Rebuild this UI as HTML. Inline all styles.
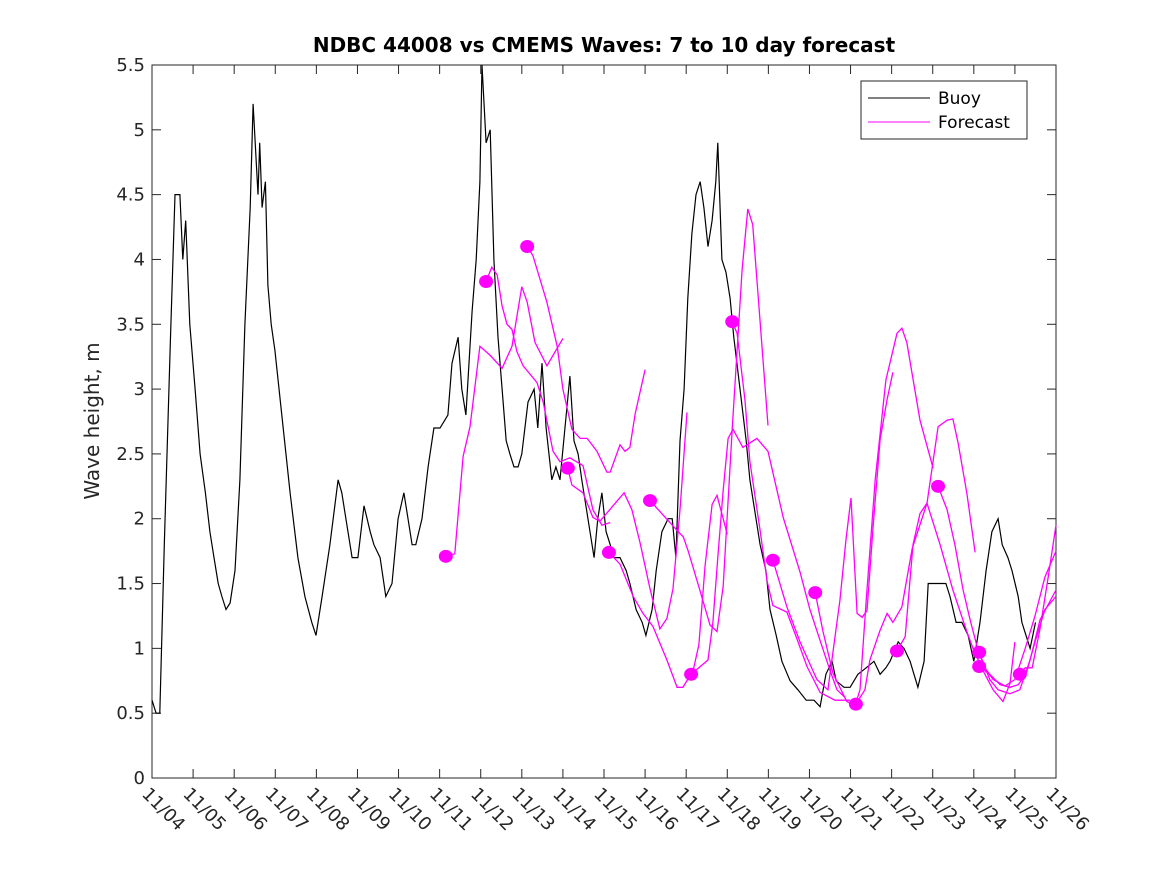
<!DOCTYPE html>
<html><head><meta charset="utf-8"><style>
body{margin:0;background:#fff;}
svg{display:block;font-family:"DejaVu Sans","Liberation Sans",sans-serif;}
</style></head><body>
<svg id="chart" width="1167" height="875" viewBox="0 0 1167 875">
<rect width="1167" height="875" fill="#fff"/>
<text x="604" y="52" text-anchor="middle" font-size="20" font-weight="bold" fill="#000">NDBC 44008 vs CMEMS Waves: 7 to 10 day forecast</text>
<text transform="translate(99,421) rotate(-90)" text-anchor="middle" font-size="20" fill="#262626">Wave height, m</text>
<g id="axes"></g>
<g id="plot"></g>
<g>
<rect x="861" y="81" width="166" height="58" fill="#fff" stroke="#262626" stroke-width="1"/>
<line x1="868" y1="98" x2="930" y2="98" stroke="#000" stroke-width="1"/>
<text x="938" y="104" font-size="17" fill="#000">Buoy</text>
<line x1="868" y1="122" x2="930" y2="122" stroke="#ff00ff" stroke-width="1"/>
<text x="938" y="128" font-size="17" fill="#000">Forecast</text>
</g>
</svg>
<script>
const xTickLabels=["11/04","11/05","11/06","11/07","11/08","11/09","11/10","11/11","11/12","11/13","11/14","11/15","11/16","11/17","11/18","11/19","11/20","11/21","11/22","11/23","11/24","11/25","11/26"];
const yTicks=[0,0.5,1,1.5,2,2.5,3,3.5,4,4.5,5,5.5];
const buoyDays=[0,0.1,0.19,0.3,0.45,0.56,0.68,0.75,0.82,0.92,1.05,1.17,1.3,1.41,1.51,1.61,1.7,1.8,1.9,2.02,2.14,2.26,2.39,2.46,2.58,2.62,2.68,2.76,2.82,2.9,2.99,3.16,3.36,3.55,3.72,3.89,3.99,4.14,4.33,4.53,4.62,4.72,4.87,5.01,5.16,5.31,5.4,5.55,5.69,5.84,5.99,6.13,6.23,6.33,6.42,6.57,6.72,6.86,7.01,7.2,7.3,7.45,7.54,7.64,7.79,7.89,7.98,8.03,8.13,8.23,8.32,8.42,8.52,8.62,8.71,8.81,8.91,9,9.15,9.3,9.39,9.49,9.59,9.73,9.83,9.93,10.08,10.17,10.27,10.37,10.46,10.56,10.66,10.76,10.85,10.95,11.05,11.15,11.24,11.39,11.54,11.63,11.78,11.93,12.02,12.17,12.27,12.41,12.56,12.66,12.75,12.85,12.95,13.04,13.14,13.24,13.34,13.43,13.53,13.63,13.72,13.77,13.87,13.97,14.07,14.16,14.31,14.46,14.55,14.7,14.8,14.94,15.04,15.19,15.33,15.53,15.72,15.92,16.11,16.26,16.4,16.55,16.65,16.84,16.99,17.18,17.38,17.57,17.72,17.86,17.96,18.16,18.3,18.45,18.64,18.79,18.89,18.98,19.18,19.32,19.42,19.57,19.71,19.86,20,20.15,20.3,20.44,20.59,20.69,20.83,20.93,21.08,21.17,21.27,21.37,21.5];
const buoyValues=[0.6,0.5,0.5,1.8,3.4,4.5,4.5,4,4.3,3.5,3,2.5,2.2,1.9,1.7,1.5,1.4,1.3,1.35,1.6,2.3,3.5,4.4,5.2,4.5,4.9,4.4,4.6,3.8,3.5,3.3,2.8,2.2,1.7,1.4,1.2,1.1,1.4,1.8,2.3,2.2,2,1.7,1.7,2.1,1.9,1.8,1.7,1.4,1.5,2,2.2,2,1.8,1.8,2,2.4,2.7,2.7,2.8,3.2,3.4,3,2.8,3.6,4,4.6,5.5,4.9,5,4,3.4,3,2.6,2.5,2.4,2.4,2.5,2.9,3,2.7,3.2,2.7,2.3,2.4,2.3,2.8,3.1,2.6,2.5,2.3,2.1,1.9,1.7,2,2.2,1.9,1.8,1.7,1.7,1.6,1.5,1.3,1.2,1.1,1.3,1.6,1.9,2,2,1.7,2.6,3,3.7,4.2,4.5,4.6,4.4,4.1,4.3,4.6,4.9,4,3.9,3.7,3.4,3,2.6,2.3,2,1.8,1.6,1.3,1.1,0.9,0.75,0.68,0.6,0.6,0.55,0.8,0.9,0.75,0.7,0.7,0.8,0.85,0.9,0.8,0.85,0.9,1.05,1,0.9,0.7,0.9,1.5,1.5,1.5,1.5,1.4,1.2,1.2,1.1,0.9,1.2,1.6,1.9,2,1.8,1.7,1.6,1.4,1.2,1.1,1,1.2];
const fcDays=[
[7.15,7.37,7.57,7.74,7.98,8.23,8.52,8.76,9.0,9.13,9.32,9.61,10.0],
[8.13,8.27,8.4,8.52,8.64,8.76,8.88,9.03,9.37,9.52,9.76,9.93,10.17,10.49,10.73,10.95,11.15],
[9.13,9.27,9.61,9.86,10.0,10.22,10.42,10.59,10.83,11.07,11.15,11.39,11.51,11.63,11.76,12.0],
[10.12,10.22,10.49,10.73,10.9,11.22,11.49,11.68,11.88,12.12,12.36,12.53,12.68,12.85,13.02],
[11.12,11.39,11.71,11.95,12.19,12.53,12.78,12.92,13.17,13.31,13.46,13.63,13.75,14.0],
[12.12,12.78,12.93,13.05,13.34,13.58,13.75,13.9,14.12,14.36,14.5,14.62,14.99],
[13.12,13.53,13.65,13.77,13.9,14.02,14.14,14.38,14.72,14.99,15.36,15.77,16.01,16.26,16.5,16.67,16.87],
[14.12,14.24,14.43,14.55,14.8,14.97,15.11,15.45,15.7,15.94,16.26,16.62,16.99],
[15.11,15.45,15.77,16.18,16.45,16.74,16.89,17.01,17.16,17.28,17.4,17.55,17.72,17.89,18.03],
[16.14,16.33,16.57,16.91,17.11,17.23,17.38,17.6,17.86,18.13,18.25,18.37,18.69,19.01],
[17.13,17.35,17.47,17.72,17.89,18.03,18.25,18.5,18.86,19.13,19.35,19.49,19.62,19.83,20.03],
[18.13,18.33,18.52,18.69,18.86,19.18,19.49,19.83,19.98,20.22,20.47,20.71,20.88,21.0],
[19.13,19.35,19.54,19.74,19.91,20.1,20.27,20.47,20.76,21.0,21.25,21.49,21.73,22.0],
[20.13,20.39,20.59,20.88,21.12,21.37,21.61,22.0],
[20.13,20.39,20.64,20.88,21.08,21.27,21.49,21.73,22.0],
[21.12,21.25,21.42,21.61,21.81,22.0]];
const fcValues=[
[1.71,1.73,2.48,2.71,3.33,3.26,3.16,3.33,3.79,3.67,3.36,3.18,3.39],
[3.83,3.94,3.88,3.64,3.5,3.46,3.29,3.18,3.05,2.9,2.52,2.44,2.47,2.41,2.07,1.95,1.97],
[4.1,4.03,3.67,3.33,3.0,2.69,2.62,2.62,2.52,2.36,2.36,2.57,2.52,2.55,2.81,3.15],
[2.39,2.26,2.2,2.01,1.98,2.1,2.2,2.07,1.81,1.46,1.15,1.23,1.46,2.07,2.82],
[1.74,1.65,1.4,1.27,1.17,0.91,0.7,0.7,0.83,1.03,1.64,2.11,2.18,1.88],
[2.14,1.91,1.86,1.75,1.44,1.18,1.13,1.48,2.69,3.92,4.39,4.27,2.72],
[0.8,0.91,1.2,1.7,2.22,2.62,2.69,2.55,2.62,2.52,2.01,1.59,1.3,1.06,0.83,0.68,0.62],
[3.52,3.43,2.92,2.44,1.91,1.52,1.33,1.28,1.07,0.86,0.66,0.6,0.6],
[1.68,1.32,1.05,0.76,0.68,1.37,1.84,2.16,1.27,1.24,1.29,1.94,2.61,2.92,3.13],
[1.43,1.13,0.81,0.59,0.56,0.68,1.37,2.3,3.07,3.43,3.47,3.36,2.76,2.39],
[0.57,0.68,0.91,1.14,1.27,1.2,1.32,1.77,2.12,2.71,2.76,2.77,2.58,2.2,1.74],
[0.98,1.09,1.8,2.04,2.12,1.8,1.45,1.13,1.0,0.83,0.68,0.59,0.73,1.05],
[2.25,2.07,1.8,1.45,1.22,0.99,0.85,0.76,0.71,0.76,1.0,1.25,1.55,1.75],
[0.97,0.76,0.68,0.65,0.68,0.91,1.22,1.45],
[0.86,0.8,0.72,0.7,0.72,0.8,1.05,1.3,1.4],
[0.8,0.85,0.85,1.15,1.55,1.95,2.35]];

const NS="http://www.w3.org/2000/svg";
const L=152,R=1056,T=65,B=778,X0=0,X1=22,Y0=0,Y1=5.5;
const xs=d=>L+(d-X0)/(X1-X0)*(R-L);
const ys=v=>B-(v-Y0)/(Y1-Y0)*(B-T);
function mk(tag,attrs,parent){const e=document.createElementNS(NS,tag);for(const k in attrs)e.setAttribute(k,attrs[k]);parent.appendChild(e);return e;}
const axes=document.getElementById('axes'),plot=document.getElementById('plot');
const box=mk('rect',{x:L,y:T,width:R-L,height:B-T,fill:'none',stroke:'#262626','stroke-width':1},axes);


xTickLabels.forEach((lab,i)=>{
  const x=xs(i);
  const t1=mk('line',{x1:x,y1:B,x2:x,y2:B-9,stroke:'#262626'},axes);
  
  
  const t2=mk('line',{x1:x,y1:T,x2:x,y2:T+9,stroke:'#262626'},axes);
  
  
  const tx=mk('text',{transform:`translate(${x-11},${B+17}) rotate(45)`,'font-size':18,fill:'#262626'},axes);
  tx.textContent=lab;
  
  
});
yTicks.forEach(v=>{
  const y=ys(v);
  const t1=mk('line',{x1:L,y1:y,x2:L+9,y2:y,stroke:'#262626'},axes);
  
  
  const t2=mk('line',{x1:R,y1:y,x2:R-9,y2:y,stroke:'#262626'},axes);
  
  
  const tx=mk('text',{x:L-7,y:y+6,'text-anchor':'end','font-size':18,fill:'#262626'},axes);
  tx.textContent=String(v);
  
  
});
const bp=buoyDays.map((d,i)=>xs(d).toFixed(1)+','+ys(buoyValues[i]).toFixed(1)).join(' ');
const bl=mk('polyline',{points:bp,fill:'none',stroke:'#000','stroke-width':1.2,'stroke-linejoin':'miter'},plot);


fcDays.forEach((ds,k)=>{
  const pts=ds.map((d,i)=>xs(d).toFixed(1)+','+ys(fcValues[k][i]).toFixed(1)).join(' ');
  const pl=mk('polyline',{points:pts,fill:'none',stroke:'#ff00ff','stroke-width':1.3},plot);
  
  
});
fcDays.forEach((ds,k)=>{
  const c=mk('ellipse',{cx:xs(ds[0]),cy:ys(fcValues[k][0]),rx:7,ry:6.5,fill:'#ff00ff'},plot);
  
  
});
</script>
</body></html>
